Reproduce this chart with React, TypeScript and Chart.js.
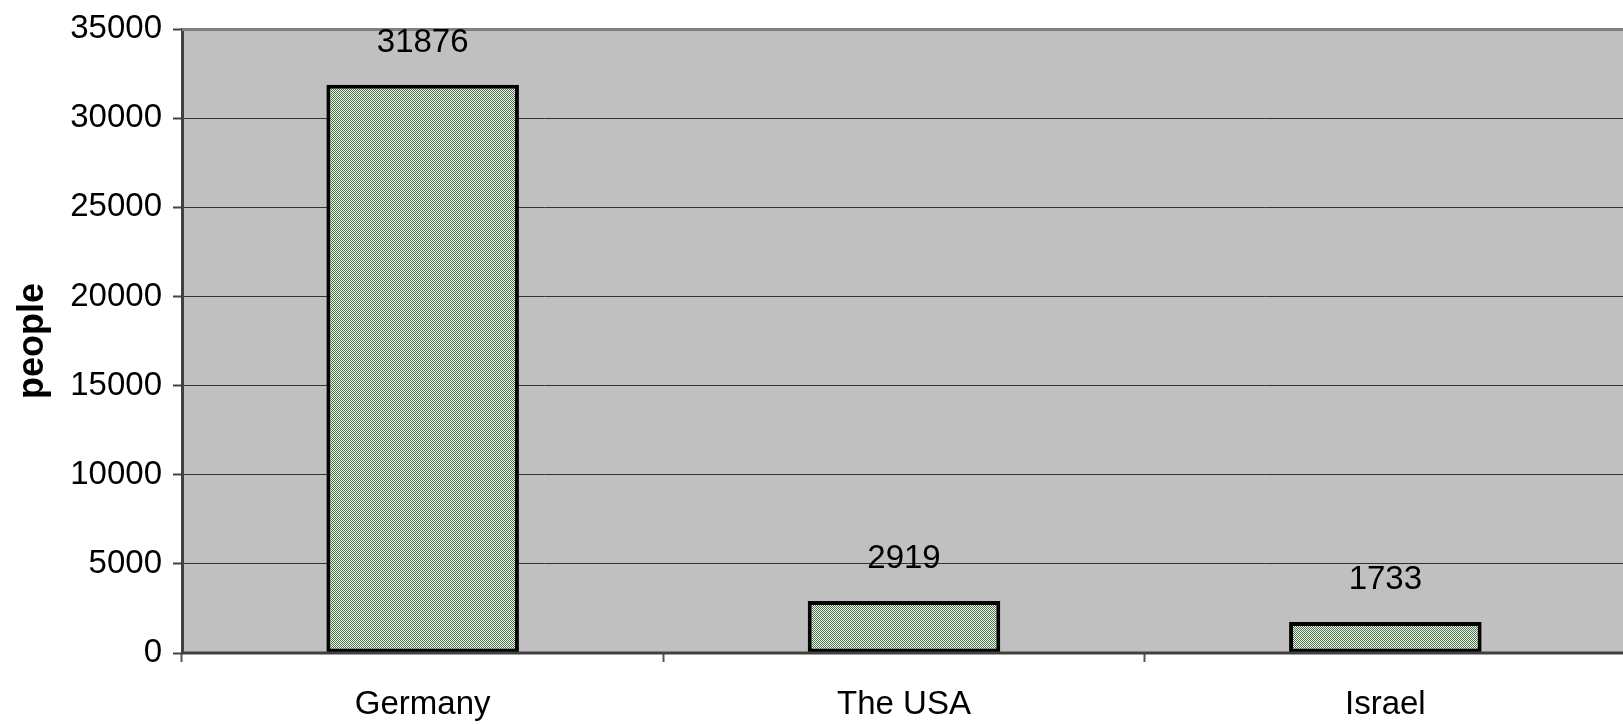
import React, { useEffect, useRef } from "react";
import { Chart, registerables } from "chart.js";

Chart.register(...registerables);

const categories = ["Germany", "The USA", "Israel"];
const peopleValues = [31876, 2919, 1733];
const yTickMax = 35000;
const yTickStep = 5000;
const yAxisTitle = "people";

const FONT = "'Liberation Sans', Arial, sans-serif";

function makePattern(): CanvasPattern | string {
  const c = document.createElement("canvas");
  c.width = 2;
  c.height = 2;
  const g = c.getContext("2d");
  if (!g) return "#a0b89c";
  g.fillStyle = "#f2f4ee";
  g.fillRect(0, 0, 2, 2);
  g.fillStyle = "#4a744a";
  g.fillRect(0, 0, 1, 1);
  g.fillRect(1, 1, 1, 1);
  const p = g.createPattern(c, "repeat");
  return p || "#a0b89c";
}

const plotPlugin = {
  id: "plotDecor",
  beforeDraw(chart: any) {
    const { ctx, chartArea } = chart;
    ctx.save();
    ctx.fillStyle = "#c0c0c0";
    ctx.fillRect(chartArea.left, chartArea.top, chartArea.right - chartArea.left, chartArea.bottom - chartArea.top);
    ctx.restore();
  },
  afterDatasetsDraw(chart: any) {
    const { ctx, chartArea } = chart;
    ctx.save();
    ctx.strokeStyle = "#808080";
    ctx.lineWidth = 3;
    ctx.beginPath();
    ctx.moveTo(chartArea.left, chartArea.top + 0.5);
    ctx.lineTo(chartArea.right, chartArea.top + 0.5);
    ctx.stroke();
    ctx.strokeStyle = "#404040";
    ctx.lineWidth = 3;
    ctx.beginPath();
    ctx.moveTo(chartArea.left - 1, chartArea.bottom);
    ctx.lineTo(chartArea.right, chartArea.bottom);
    ctx.stroke();
    const meta = chart.getDatasetMeta(0);
    const data = chart.data.datasets[0].data;
    ctx.fillStyle = "#000";
    ctx.font = `33px ${FONT}`;
    ctx.textAlign = "center";
    ctx.textBaseline = "middle";
    meta.data.forEach((bar: any, i: number) => {
      ctx.fillText(String(data[i]), bar.x, bar.y - 42);
    });
    ctx.restore();
  },
};

export default function App() {
  const ref = useRef<HTMLCanvasElement | null>(null);

  useEffect(() => {
    if (!ref.current) return;
    const chart = new Chart(ref.current, {
      type: "bar",
      data: {
        labels: categories,
        datasets: [
          {
            label: yAxisTitle,
            data: peopleValues,
            backgroundColor: makePattern() as any,
            borderColor: "#000",
            borderWidth: 4,
            borderSkipped: false,
            barPercentage: 0.4,
            categoryPercentage: 1,
          },
        ],
      },
      plugins: [plotPlugin],
      options: {
        animation: false,
        responsive: true,
        maintainAspectRatio: false,
        devicePixelRatio: 1,
        layout: { padding: { top: 29, right: 14, bottom: 0, left: 0 } },
        plugins: {
          legend: { display: false },
          tooltip: { enabled: false },
        },
        scales: {
          x: {
            afterFit: (s: any) => {
              s.height = 71;
              s.paddingLeft = 0;
              s.paddingRight = 0;
            },
            grid: {
              drawOnChartArea: false,
              drawTicks: true,
              tickLength: 9,
              tickColor: "#555",
              tickWidth: 2,
              offset: true,
            },
            border: { display: false },
            ticks: {
              color: "#000",
              font: { family: FONT, size: 33 },
              padding: 23,
              maxRotation: 0,
            },
          },
          y: {
            min: 0,
            max: yTickMax,
            afterFit: (s: any) => {
              s.width = 182;
              s.paddingTop = 0;
              s.paddingBottom = 0;
            },
            grid: {
              color: "#333",
              lineWidth: 1,
              drawTicks: true,
              tickLength: 9,
              tickColor: "#444",
              tickWidth: 2,
            },
            border: { display: true, color: "#404040", width: 3 },
            ticks: {
              stepSize: yTickStep,
              color: "#000",
              font: { family: FONT, size: 33 },
              padding: 11,
              callback: (v: any) => String(v),
            },
            title: {
              display: true,
              text: yAxisTitle,
              color: "#000",
              font: { family: FONT, size: 36, weight: "bold" },
              padding: { top: 11, bottom: 0 },
            },
          },
        },
      },
    });
    return () => chart.destroy();
  }, []);

  return (
    <div
      style={{
        position: "fixed",
        left: 0,
        top: 0,
        width: 1623,
        height: 724,
        overflow: "hidden",
        background: "#fff",
      }}
    >
      <div style={{ position: "absolute", left: 0, top: 0, width: 1640, height: 724 }}>
        <canvas ref={ref} />
      </div>
    </div>
  );
}
